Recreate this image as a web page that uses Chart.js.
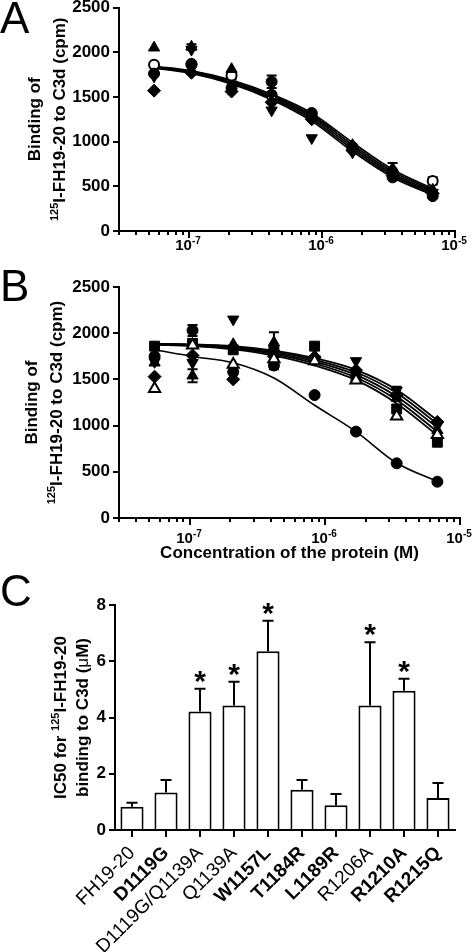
<!DOCTYPE html>
<html lang="en">
<head>
<meta charset="utf-8">
<title>FH19-20 binding to C3d</title>
<style>
  body { margin: 0; background: #fff; }
  #wrap { position: relative; width: 475px; height: 952px; overflow: hidden; }
  #wrap canvas { position: absolute; left: 0; }
  .panel { position: absolute; left: 0; font: 44px "Liberation Sans", Arial, sans-serif; line-height: 44px; color: #000; z-index: 2; }
</style>
</head>
<body>
<div id="wrap">
  <canvas id="chartA" width="475" height="262" style="top:0"></canvas>
  <canvas id="chartB" width="475" height="310" style="top:262px"></canvas>
  <canvas id="chartC" width="475" height="380" style="top:572px"></canvas>
  <div class="panel" style="top:-4px">A</div>
  <div class="panel" style="top:264px">B</div>
  <div class="panel" style="top:569px">C</div>
</div>

<script src="https://cdn.jsdelivr.net/npm/chart.js@4.4.0/dist/chart.umd.min.js"></script>
<script>
// ---- values ----
const conc = [5.5e-8, 1.05e-7, 2.1e-7, 4.2e-7, 8.4e-7, 1.7e-6, 3.4e-6, 6.8e-6];
const xDecades = [1e-7, 1e-6, 1e-5];
const xDecadeExp = ['-7', '-6', '-5'];

// panel A: FH19-20 and mutants without effect
const aFH = [1760, 1870, 1600, 1670, 1320, 940, 600, 390];
const aFHErr = [0, 0, 0, 70, 0, 0, 0, 0];
const aD1119G = [1860, 1860, 1740, 1520, 1290, 920, 660, 560];
const aD1119GErr = [0, 0, 0, 0, 0, 0, 0, 40];
const aT1184R = [2050, 2060, 1810, 1540, 1280, 960, 700, 460];
const aT1184RErr = [0, 30, 0, 0, 0, 0, 60, 0];
const aL1189R = [1730, 2030, 1640, 1350, 1040, 880, 630, 430];
const aL1189RErr = [0, 0, 60, 0, 0, 0, 0, 0];
const aR1215Q = [1570, 1770, 1560, 1440, 1250, 900, 620, 420];
const aR1215QErr = [0, 0, 0, 0, 0, 0, 0, 0];
// fitted curves, panel A
const aFitFH = [1822, 1764, 1645, 1470, 1230, 890, 600, 405];
const aFitD1119G = [1827, 1771, 1656, 1485, 1252, 915, 622, 422];
const aFitT1184R = [1832, 1778, 1667, 1500, 1274, 940, 644, 439];
const aFitL1189R = [1837, 1785, 1678, 1515, 1296, 965, 666, 456];
const aFitR1215Q = [1842, 1792, 1689, 1530, 1318, 990, 688, 473];

// panel B: FH19-20 and mutants with reduced binding
const bFH = [1750, 2030, 1580, 1650, 1330, 935, 592, 393];
const bFHErr = [0, 60, 0, 40, 0, 0, 0, 0];
const bDQ = [1860, 1890, 1820, 1810, 1860, 1510, 1180, 820];
const bDQErr = [0, 0, 0, 0, 30, 0, 0, 0];
const bQ1139A = [1680, 1540, 1880, 1900, 1760, 1560, 1300, 950];
const bQ1139AErr = [0, 70, 0, 110, 0, 0, 0, 0];
const bW1157L = [1690, 1680, 2150, 1780, 1720, 1700, 1380, 1000];
const bW1157LErr = [0, 0, 0, 0, 0, 0, 40, 0];
const bR1206A = [1530, 1760, 1500, 1750, 1740, 1600, 1330, 1040];
const bR1210A = [1400, 1870, 1660, 1720, 1700, 1490, 1100, 900];
// fitted curves, panel B
const bFitFH = [1820, 1748, 1680, 1515, 1220, 935, 595, 395];
const bFitDQ = [1880, 1866, 1835, 1773, 1672, 1520, 1278, 935];
const bFitQ1139A = [1882, 1871, 1844, 1787, 1693, 1549, 1315, 978];
const bFitW1157L = [1887, 1880, 1860, 1812, 1730, 1604, 1388, 1058];
const bFitR1206A = [1884, 1876, 1852, 1800, 1712, 1577, 1352, 1018];
const bFitR1210A = [1877, 1861, 1826, 1758, 1650, 1492, 1240, 895];

// panel C: IC50 values (uM)
const mutants = ['FH19-20', 'D1119G', 'D1119G/Q1139A', 'Q1139A', 'W1157L', 'T1184R', 'L1189R', 'R1206A', 'R1210A', 'R1215Q'];
const ic50 = [0.83, 1.33, 4.21, 4.43, 6.36, 1.43, 0.88, 4.43, 4.95, 1.14];
const ic50Err = [0.14, 0.45, 0.81, 0.84, 1.08, 0.35, 0.40, 2.25, 0.43, 0.53];
const boldLabel = [false, true, false, false, true, true, true, false, true, true];
const significant = [false, false, true, true, true, false, false, true, true, false];

// ---- drawing helpers ----
const FAMILY = '"Liberation Sans", Arial, sans-serif';

function fontStr(p, size) {
  const sz = p.sup ? Math.round(size * 0.65) : size;
  return (p.normal ? '' : 'bold ') + sz + 'px ' + FAMILY;
}

// text made of parts, some raised as superscript, centred on cx
function drawParts(ctx, parts, cx, y, size) {
  let w = 0;
  parts.forEach(p => { ctx.font = fontStr(p, size); w += ctx.measureText(p.t).width; });
  let x = cx - w / 2;
  ctx.textAlign = 'left';
  ctx.textBaseline = 'alphabetic';
  parts.forEach(p => {
    ctx.font = fontStr(p, size);
    ctx.fillText(p.t, x, p.sup ? y - size * 0.4 : y);
    x += ctx.measureText(p.t).width;
  });
}

function drawYTitle(ctx, lines, xs, cy, size) {
  lines.forEach((parts, i) => {
    ctx.save();
    ctx.translate(xs[i], cy);
    ctx.rotate(-Math.PI / 2);
    drawParts(ctx, parts, 0, 0, size);
    ctx.restore();
  });
}

const minorTicks = [];
[-8, -7, -6].forEach(e => {
  for (let k = 2; k <= 9; k++) minorTicks.push(k * Math.pow(10, e));
});

// log x axis ticks + superscript labels + axis titles
const logAxis = {
  id: 'logAxis',
  afterDraw(chart, args, opts) {
    const ctx = chart.ctx, xs = chart.scales.x, area = chart.chartArea;
    ctx.save();
    ctx.fillStyle = '#000';
    ctx.strokeStyle = '#000';
    ctx.lineWidth = 2;
    minorTicks.forEach(v => {
      if (v < xs.min || v > xs.max) return;
      const px = Math.round(xs.getPixelForValue(v));
      ctx.beginPath(); ctx.moveTo(px, area.bottom); ctx.lineTo(px, area.bottom + 4); ctx.stroke();
    });
    xDecades.forEach((v, i) => {
      const px = Math.round(xs.getPixelForValue(v));
      ctx.beginPath(); ctx.moveTo(px, area.bottom); ctx.lineTo(px, area.bottom + 7); ctx.stroke();
      drawParts(ctx, [{ t: '10' }, { t: xDecadeExp[i], sup: true }], px - 1, opts.labelY, 15);
    });
    drawYTitle(ctx, opts.yTitle, opts.yTitleX, (area.top + area.bottom) / 2, 17);
    if (opts.xTitle) drawParts(ctx, [{ t: opts.xTitle }], (area.left + area.right) / 2, opts.xTitleY, 17);
    ctx.restore();
  }
};

const errorBars = {
  id: 'errorBars',
  beforeDatasetsDraw(chart) {
    const ctx = chart.ctx, ys = chart.scales.y;
    ctx.save();
    ctx.strokeStyle = '#000';
    ctx.lineWidth = 2;
    chart.data.datasets.forEach((ds, di) => {
      if (!ds.errors) return;
      chart.getDatasetMeta(di).data.forEach((pt, i) => {
        const e = ds.errors[i];
        if (!e) return;
        const v = ds.data[i].y;
        const y1 = ys.getPixelForValue(v + e), y2 = ys.getPixelForValue(v - e);
        ctx.beginPath();
        ctx.moveTo(pt.x, y1); ctx.lineTo(pt.x, y2);
        ctx.moveTo(pt.x - 5, y1); ctx.lineTo(pt.x + 5, y1);
        ctx.moveTo(pt.x - 5, y2); ctx.lineTo(pt.x + 5, y2);
        ctx.stroke();
      });
    });
    ctx.restore();
  }
};

const markers = [
  { style: 'circle', r: 5.5, fill: '#000' },
  { style: 'circle', r: 5, fill: '#fff' },
  { style: 'triangle', r: 6.5, fill: '#000' },
  { style: 'triangle', r: 6.5, fill: '#000', rot: 180 },
  { style: 'rectRot', r: 6.5, fill: '#000' },
  { style: 'rect', r: 7, fill: '#000' },
  { style: 'triangle', r: 6.5, fill: '#fff' }
];

function pointSet(values, errs, m) {
  return {
    data: conc.map((c, i) => ({ x: c, y: values[i] })),
    errors: errs,
    showLine: false,
    pointStyle: m.style,
    pointRadius: m.r,
    pointRotation: m.rot || 0,
    pointBackgroundColor: m.fill,
    pointBorderColor: '#000',
    pointBorderWidth: m.fill === '#fff' ? 2 : 1
  };
}

function fitSet(values, width) {
  return {
    data: conc.map((c, i) => ({ x: c, y: values[i] })),
    showLine: true,
    pointRadius: 0,
    borderColor: '#000',
    borderWidth: width || 1.8,
    cubicInterpolationMode: 'monotone'
  };
}

function curveOptions(top, xHeight, plug) {
  return {
    responsive: false,
    animation: false,
    events: [],
    layout: { padding: { top: top, right: plug.right, left: 0, bottom: 0 } },
    plugins: { legend: { display: false }, tooltip: { enabled: false }, logAxis: plug },
    scales: {
      x: {
        type: 'logarithmic', min: 3.25e-8, max: 1e-5,
        grid: { display: false },
        border: { display: true, color: '#000', width: 2 },
        ticks: { display: false },
        afterFit: s => { s.height = xHeight; s.paddingLeft = 0; s.paddingRight = 0; }
      },
      y: {
        min: 0, max: 2500,
        ticks: { stepSize: 500, color: '#000', padding: 3, font: { family: FAMILY, size: 17, weight: 'bold' }, callback: v => String(v) },
        grid: { drawOnChartArea: false, drawTicks: true, tickLength: 6, color: '#000', lineWidth: 2 },
        border: { color: '#000', width: 2 },
        afterFit: s => { s.width = 119; s.paddingTop = 0; s.paddingBottom = 0; }
      }
    }
  };
}

const bindingTitle = [
  [{ t: 'Binding of' }],
  [{ t: '125', sup: true }, { t: 'I-FH19-20 to C3d (cpm)' }]
];

// ---- panel A ----
new Chart(document.getElementById('chartA'), {
  type: 'scatter',
  data: {
    datasets: [
      pointSet(aR1215Q, aR1215QErr, markers[4]),
      pointSet(aL1189R, aL1189RErr, markers[3]),
      pointSet(aT1184R, aT1184RErr, markers[2]),
      pointSet(aFH, aFHErr, markers[0]),
      pointSet(aD1119G, aD1119GErr, markers[1]),
      fitSet(aFitFH), fitSet(aFitD1119G), fitSet(aFitT1184R), fitSet(aFitL1189R), fitSet(aFitR1215Q)
    ]
  },
  options: curveOptions(7, 31, { right: 20, labelY: 250, yTitle: bindingTitle, yTitleX: [40, 65] }),
  plugins: [errorBars, logAxis]
});

// ---- panel B ----
new Chart(document.getElementById('chartB'), {
  type: 'scatter',
  data: {
    datasets: [
      pointSet(bR1210A, null, markers[6]),
      pointSet(bR1206A, null, markers[4]),
      pointSet(bW1157L, bW1157LErr, markers[3]),
      pointSet(bQ1139A, bQ1139AErr, markers[2]),
      pointSet(bDQ, bDQErr, markers[5]),
      pointSet(bFH, bFHErr, markers[0]),
      fitSet(bFitFH, 1.6), fitSet(bFitDQ), fitSet(bFitQ1139A), fitSet(bFitW1157L), fitSet(bFitR1206A), fitSet(bFitR1210A)
    ]
  },
  options: curveOptions(25, 54, {
    right: 15, labelY: 281, yTitle: bindingTitle, yTitleX: [37, 62],
    xTitle: 'Concentration of the protein (M)', xTitleY: 296
  }),
  plugins: [errorBars, logAxis]
});

// ---- panel C ----
const barExtras = {
  id: 'barExtras',
  afterDraw(chart) {
    const ctx = chart.ctx, ys = chart.scales.y, area = chart.chartArea;
    const ds = chart.data.datasets[0];
    ctx.save();
    ctx.strokeStyle = '#000';
    ctx.fillStyle = '#000';
    ctx.lineWidth = 2;
    chart.getDatasetMeta(0).data.forEach((bar, i) => {
      const yTop = ys.getPixelForValue(ds.data[i]);
      const yErr = ys.getPixelForValue(ds.data[i] + ds.errors[i]);
      ctx.beginPath();
      ctx.moveTo(bar.x, yTop); ctx.lineTo(bar.x, yErr);
      ctx.moveTo(bar.x - 5.5, yErr); ctx.lineTo(bar.x + 5.5, yErr);
      ctx.stroke();
      if (significant[i]) {
        ctx.font = 'bold 30px ' + FAMILY;
        ctx.textAlign = 'center';
        ctx.textBaseline = 'alphabetic';
        const m = ctx.measureText('*');
        const cy = yErr - 12;
        ctx.fillText('*', bar.x, cy + (m.actualBoundingBoxAscent - m.actualBoundingBoxDescent) / 2);
      }
    });
    drawYTitle(ctx, [
      [{ t: 'IC50 for ' }, { t: '125', sup: true }, { t: 'I-FH19-20' }],
      [{ t: 'binding to C3d (' }, { t: 'μ', normal: true }, { t: 'M)' }]
    ], [66, 88], (area.top + area.bottom) / 2, 17);
    ctx.restore();
  }
};

new Chart(document.getElementById('chartC'), {
  type: 'bar',
  data: {
    labels: mutants,
    datasets: [{
      data: ic50,
      errors: ic50Err,
      backgroundColor: '#fff',
      borderColor: '#000',
      borderWidth: 2,
      barPercentage: 0.68,
      categoryPercentage: 1
    }]
  },
  options: {
    responsive: false,
    animation: false,
    events: [],
    layout: { padding: { top: 33, right: 20, left: 0, bottom: 0 } },
    plugins: { legend: { display: false }, tooltip: { enabled: false } },
    scales: {
      x: {
        grid: { offset: false, drawOnChartArea: false, drawTicks: true, tickLength: 7, color: '#000', lineWidth: 2 },
        border: { color: '#000', width: 2 },
        ticks: {
          autoSkip: false, maxRotation: 45, minRotation: 45, padding: 5, color: '#000',
          font: c => ({ family: FAMILY, size: 19, weight: boldLabel[c.index] ? 'bold' : 'normal' })
        },
        afterFit: s => { s.height = 122; s.paddingLeft = 0; s.paddingRight = 0; }
      },
      y: {
        min: 0, max: 8,
        ticks: { stepSize: 2, color: '#000', padding: 3, font: { family: FAMILY, size: 17, weight: 'bold' } },
        grid: { drawOnChartArea: false, drawTicks: true, tickLength: 6, color: '#000', lineWidth: 2 },
        border: { color: '#000', width: 2 },
        afterFit: s => { s.width = 115; s.paddingTop = 0; s.paddingBottom = 0; }
      }
    }
  },
  plugins: [barExtras]
});
</script>
</body>
</html>
